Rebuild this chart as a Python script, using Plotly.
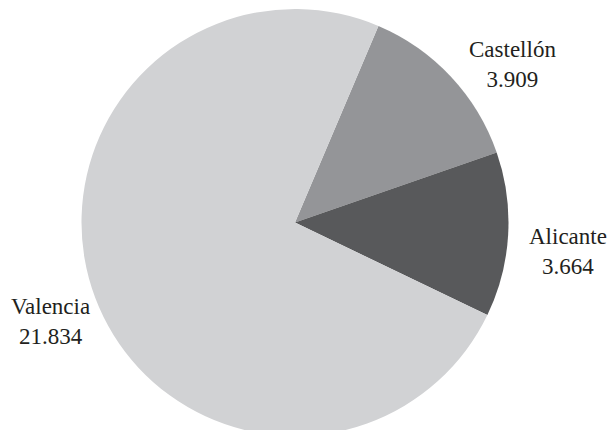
import plotly.graph_objects as go

provinces = ["Castellón", "Alicante", "Valencia"]
values = [3909, 3664, 21834]
colors = ["#949598", "#58595b", "#d1d2d4"]

W, H = 612, 436
# label anchor positions in pixels (layout only)
label_px = [(512, 65), (568, 251), (50, 321)]

def fmt(v):
    return f"{v:,}".replace(",", ".")

fig = go.Figure(go.Pie(
    labels=provinces,
    values=values,
    sort=False,
    direction="clockwise",
    rotation=23,
    marker=dict(colors=colors, line=dict(width=0)),
    textinfo="none",
    showlegend=False,
    hoverinfo="label+value",
    domain=dict(x=[(295 - 216) / W, (295 + 216) / W], y=[0, 1 - 9 / H]),
))

for name, v, (px, py) in zip(provinces, values, label_px):
    fig.add_annotation(
        x=px / W, y=1 - py / H, xref="paper", yref="paper",
        text=f"{name}<br>{fmt(v)}", showarrow=False,
        xanchor="center", yanchor="middle", align="center",
        font=dict(family="Times New Roman, Liberation Serif, serif", size=23, color="#231f20"),
    )

fig.update_layout(
    width=W,
    height=H,
    margin=dict(l=0, r=0, t=0, b=0),
    paper_bgcolor="white",
    plot_bgcolor="white",
)

fig.write_html(
    "out.html",
    config={"displayModeBar": False},
    post_script="document.body.style.margin='0';document.body.style.overflow='hidden';",
)
